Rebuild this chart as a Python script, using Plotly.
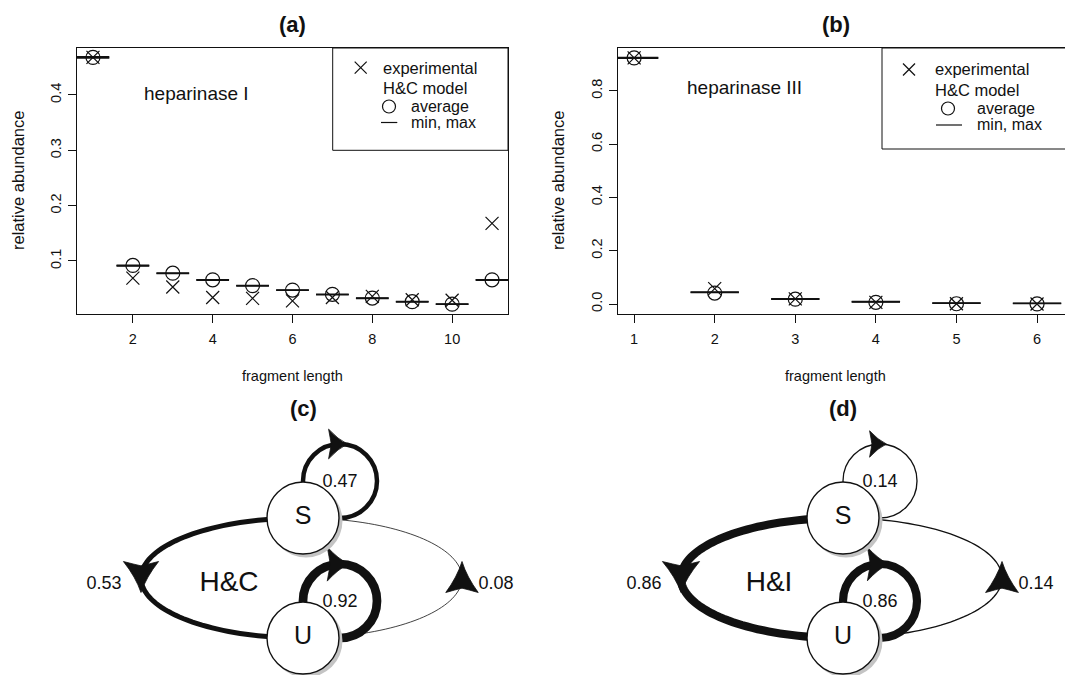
import math
import plotly.graph_objects as go

FIG_W, FIG_H = 1065, 675
FONT = "Liberation Sans, Arial, Helvetica, sans-serif"
INK = "#111111"

# ---------------- data: panel (a) heparinase I ----------------
frag_len_a = [1, 2, 3, 4, 5, 6, 7, 8, 9, 10, 11]
experimental_a = [0.468, 0.069, 0.053, 0.034, 0.0325, 0.028, 0.034, 0.036, 0.030, 0.029, 0.168]
model_avg_a = [0.468, 0.092, 0.078, 0.066, 0.0555, 0.0475, 0.0398, 0.033, 0.0265, 0.022, 0.066]
model_min_a = [0.467, 0.0912, 0.0775, 0.0655, 0.0550, 0.0470, 0.0390, 0.0325, 0.0262, 0.0218, 0.0655]
model_max_a = [0.469, 0.0920, 0.0782, 0.0662, 0.0558, 0.0476, 0.0400, 0.0332, 0.0268, 0.0224, 0.0662]
xticks_a = [2, 4, 6, 8, 10]
yticks_a = [0.1, 0.2, 0.3, 0.4]

# ---------------- data: panel (b) heparinase III ----------------
frag_len_b = [1, 2, 3, 4, 5, 6]
experimental_b = [0.924, 0.058, 0.019, 0.006, 0.001, 0.0]
model_avg_b = [0.924, 0.041, 0.018, 0.0065, 0.001, 0.0005]
model_min_b = [0.923, 0.043, 0.018, 0.008, 0.003, 0.002]
model_max_b = [0.925, 0.045, 0.020, 0.009, 0.004, 0.003]
xticks_b = [1, 2, 3, 4, 5, 6]
yticks_b = [0.0, 0.2, 0.4, 0.6, 0.8]
yticktext_b = ["0.0", "0.2", "0.4", "0.6", "0.8"]

# ---------------- data: panels (c), (d) transition diagrams ----------------
states = ["S", "U"]
transitions = [("S", "S"), ("S", "U"), ("U", "S"), ("U", "U")]
prob_hc = [0.47, 0.53, 0.08, 0.92]
prob_hi = [0.14, 0.86, 0.14, 0.86]

legend_labels = ["experimental", "H&C model", "average", "min, max"]


def px(xp):
    return xp / FIG_W


def py(yp):
    return 1 - yp / FIG_H


def segments(xs, ys, hw):
    sx, sy = [], []
    for x, y in zip(xs, ys):
        sx += [x - hw, x + hw, None]
        sy += [y, y, None]
    return sx, sy


fig = go.Figure()


# ---------- scatter panels ----------
def add_panel(xs, exp, avg, mn, mx, hw, xa, ya):
    for vals in (mn, mx):
        sx, sy = segments(xs, vals, hw)
        fig.add_trace(go.Scatter(x=sx, y=sy, mode="lines", line=dict(color=INK, width=1.6),
                                 xaxis=xa, yaxis=ya, showlegend=False, hoverinfo="skip"))
    fig.add_trace(go.Scatter(x=xs, y=avg, mode="markers", xaxis=xa, yaxis=ya, showlegend=False,
                             marker=dict(symbol="circle-open", size=14, color=INK, line=dict(width=1.2))))
    fig.add_trace(go.Scatter(x=xs, y=exp, mode="markers", xaxis=xa, yaxis=ya, showlegend=False,
                             marker=dict(symbol="x-thin-open", size=13, color=INK, line=dict(width=1.2))))


add_panel(frag_len_a, experimental_a, model_avg_a, model_min_a, model_max_a, 0.41, "x", "y")
add_panel(frag_len_b, experimental_b, model_avg_b, model_min_b, model_max_b, 0.30, "x2", "y2")

TOP, BOT = 48, 314
axis_common = dict(ticks="outside", ticklen=8, tickwidth=1, tickcolor=INK, showline=True,
                   linecolor=INK, linewidth=1, showgrid=False, zeroline=False,
                   tickfont=dict(family=FONT, size=14.5, color=INK), fixedrange=True)

fig.update_layout(
    xaxis=dict(domain=[px(77), px(508)], range=[0.6, 11.4], tickvals=xticks_a, mirror=True,
               anchor="y", ticklabelstandoff=4, **axis_common),
    yaxis=dict(domain=[py(BOT), py(TOP)], range=[0.0042, 0.4849], tickvals=yticks_a,
               ticktext=[f"{v:g}" for v in yticks_a], tickangle=-90, mirror=True, anchor="x",
               ticklabelstandoff=1, **axis_common),
    xaxis2=dict(domain=[px(618), 1.0], range=[0.8, 6.347], tickvals=xticks_b, mirror=True,
                anchor="y2", ticklabelstandoff=4, **axis_common),
    yaxis2=dict(domain=[py(BOT), py(TOP)], range=[-0.0375, 0.961], tickvals=yticks_b,
                ticktext=yticktext_b, tickangle=-90, mirror=False, anchor="x2",
                ticklabelstandoff=1, **axis_common),
)

annotations = []
shapes = []


def text(xp, yp, s, size, anchor="center", bold=False, angle=0):
    annotations.append(dict(x=px(xp), y=py(yp), xref="paper", yref="paper",
                            text=f"<b>{s}</b>" if bold else s,
                            showarrow=False, xanchor=anchor, yanchor="middle", textangle=angle,
                            font=dict(family=FONT, size=size, color=INK)))


# titles & axis labels
text(292.5, 25, "(a)", 22, bold=True)
text(835.5, 25, "(b)", 22, bold=True)
text(292.5, 376, "fragment length", 14.5)
text(835.5, 376, "fragment length", 14.5)
text(18, 181, "relative abundance", 16.5, angle=-90)
text(558, 181, "relative abundance", 16.5, angle=-90)
text(141.7, 93, "heparinase I", 19, anchor="left")
text(685, 88, "heparinase III", 19, anchor="left")


# legends (drawn by hand, like R's legend box)
def legend(box_left, box_right, box_bottom, x_sym, x_txt, y_rows, x_circ, x_txt2, line_x0, line_x1):
    shapes.append(dict(type="rect", xref="paper", yref="paper", x0=px(box_left), x1=px(box_right),
                       y0=py(box_bottom), y1=py(TOP), line=dict(color=INK, width=1)))
    s = 6
    for dx in (1, -1):
        shapes.append(dict(type="line", xref="paper", yref="paper", x0=px(x_sym - s), x1=px(x_sym + s),
                           y0=py(y_rows[0] - s * dx), y1=py(y_rows[0] + s * dx),
                           line=dict(color=INK, width=1.2)))
    shapes.append(dict(type="circle", xref="paper", yref="paper", x0=px(x_circ - 6.5), x1=px(x_circ + 6.5),
                       y0=py(y_rows[2] + 6.5), y1=py(y_rows[2] - 6.5), line=dict(color=INK, width=1.2)))
    shapes.append(dict(type="line", xref="paper", yref="paper", x0=px(line_x0), x1=px(line_x1),
                       y0=py(y_rows[3]), y1=py(y_rows[3]), line=dict(color=INK, width=1.2)))
    text(x_txt, y_rows[0], legend_labels[0], 16.5, anchor="left")
    text(x_txt, y_rows[1], legend_labels[1], 16.5, anchor="left")
    text(x_txt2, y_rows[2], legend_labels[2], 16, anchor="left")
    text(x_txt2, y_rows[3], legend_labels[3], 16, anchor="left")


legend(332.7, 508, 150.3, 360.7, 381, [67.7, 88.3, 106.5, 122.5], 389, 409.3, 381, 397.3)
legend(882, 1090, 149, 909, 933, [69.5, 89.5, 108.5, 125], 948, 975, 936, 962)

# ---------- transition diagrams ----------
DW, DH = 522, 280          # local drawing box (1 unit = 1 pixel)
NODE = {"S": (303, 123), "U": (303, 243)}
NODE_R = 36
ELL = (301.5, 183, 160.5, 60)
LOOP_OFF = (37, -37)
LOOP_R = 37

fig.update_layout(
    xaxis3=dict(domain=[0, px(DW)], range=[0, DW], visible=False, anchor="y3", fixedrange=True),
    yaxis3=dict(domain=[0, DH / FIG_H], range=[DH, 0], visible=False, anchor="x3", fixedrange=True),
    xaxis4=dict(domain=[px(540), px(540 + DW)], range=[0, DW], visible=False, anchor="y4", fixedrange=True),
    yaxis4=dict(domain=[0, DH / FIG_H], range=[DH, 0], visible=False, anchor="x4", fixedrange=True),
)


def arrowhead(cx, cy, ux, uy, L, Wd, xr, yr):
    nx, ny = -uy, ux

    def P(u, v):
        return (cx + u * ux + v * nx, cy + u * uy + v * ny)

    T = P(L, 0)
    W1 = P(-L, Wd)
    W2 = P(-L, -Wd)
    N = P(-0.72 * L, 0)
    C1 = P(0.0 * L, 0.3 * Wd)
    C2 = P(-0.82 * L, 0.4 * Wd)
    C3 = P(-0.82 * L, -0.4 * Wd)
    C4 = P(0.0 * L, -0.3 * Wd)
    f = lambda p: f"{p[0]:.2f},{p[1]:.2f}"
    path = f"M {f(T)} Q {f(C1)} {f(W1)} Q {f(C2)} {f(N)} Q {f(C3)} {f(W2)} Q {f(C4)} {f(T)} Z"
    shapes.append(dict(type="path", xref=xr, yref=yr, path=path, fillcolor=INK,
                       line=dict(width=0.8, color=INK), layer="below"))


def ellipse_half(t0, t1, width, xr, yr):
    cx, cy, a, b = ELL
    pts = []
    n = 80
    for i in range(n + 1):
        t = math.radians(t0 + (t1 - t0) * i / n)
        pts.append((cx + a * math.cos(t), cy - b * math.sin(t)))
    path = "M " + " L ".join(f"{x:.2f},{y:.2f}" for x, y in pts)
    shapes.append(dict(type="path", xref=xr, yref=yr, path=path, line=dict(color=INK, width=width),
                       layer="below"))


def diagram(probs, model_label, title, xr, yr, x_off):
    cx, cy, a, b = ELL
    labels_x, labels_y, labels_t, labels_s = [], [], [], []
    for (src, dst), p in zip(transitions, probs):
        w = max(0.8, 9.5 * p)
        if src == dst:
            nx0, ny0 = NODE[src]
            lx, ly = nx0 + LOOP_OFF[0], ny0 + LOOP_OFF[1]
            shapes.append(dict(type="circle", xref=xr, yref=yr, x0=lx - LOOP_R, x1=lx + LOOP_R,
                               y0=ly - LOOP_R, y1=ly + LOOP_R, line=dict(color=INK, width=w),
                               layer="below"))
            arrowhead(lx - 2, ly - LOOP_R, 1, 0, 8 + 3 * p, 12.5 + 5 * p, xr, yr)
            labels_x.append(lx); labels_y.append(ly + 1)
        elif src == "S":
            ellipse_half(90, 270, w, xr, yr)
            arrowhead(cx - a, cy - 1, 0, 1, 15.5, 16 + 3 * p, xr, yr)
            labels_x.append(cx - a - 37); labels_y.append(cy + 6)
        else:
            ellipse_half(-90, 90, w, xr, yr)
            arrowhead(cx + a, cy - 1, 0, -1, 15.5, 16 + 3 * p, xr, yr)
            labels_x.append(cx + a + 34); labels_y.append(cy + 6)
        labels_t.append(f"{p:.2f}")
        labels_s.append(18)
    # node shadows and nodes
    node_x = [NODE[s][0] for s in states]
    node_y = [NODE[s][1] for s in states]
    fig.add_trace(go.Scatter(x=[v + 3 for v in node_x], y=[v + 3 for v in node_y], mode="markers",
                             xaxis=xr, yaxis=yr, showlegend=False, hoverinfo="skip",
                             marker=dict(size=2 * NODE_R + 1, color="#c4c4c4", line=dict(width=0))))
    fig.add_trace(go.Scatter(x=node_x, y=node_y, mode="markers+text", text=states,
                             textfont=dict(family=FONT, size=25, color=INK), textposition="middle center",
                             xaxis=xr, yaxis=yr, showlegend=False, hoverinfo="skip",
                             marker=dict(size=2 * NODE_R, color="white", line=dict(width=1.4, color=INK))))
    labels_x.append(229); labels_y.append(cy + 6); labels_t.append(model_label); labels_s.append(28)
    fig.add_trace(go.Scatter(x=labels_x, y=labels_y, mode="text", text=labels_t,
                             textfont=dict(family=FONT, size=labels_s, color=INK),
                             textposition="middle center", xaxis=xr, yaxis=yr, showlegend=False,
                             hoverinfo="skip"))
    text(x_off + 303, 408, title, 22, bold=True)


diagram(prob_hc, "H&C", "(c)", "x3", "y3", 0)
diagram(prob_hi, "H&I", "(d)", "x4", "y4", 540)

fig.update_layout(
    width=FIG_W, height=FIG_H, margin=dict(l=0, r=0, t=0, b=0),
    paper_bgcolor="white", plot_bgcolor="rgba(0,0,0,0)",
    showlegend=False, annotations=annotations, shapes=shapes,
    font=dict(family=FONT, color=INK),
)

fig.write_html("out.html", config={"displayModeBar": False},
               post_script="document.body.style.margin='0px';document.body.style.overflow='hidden';")
